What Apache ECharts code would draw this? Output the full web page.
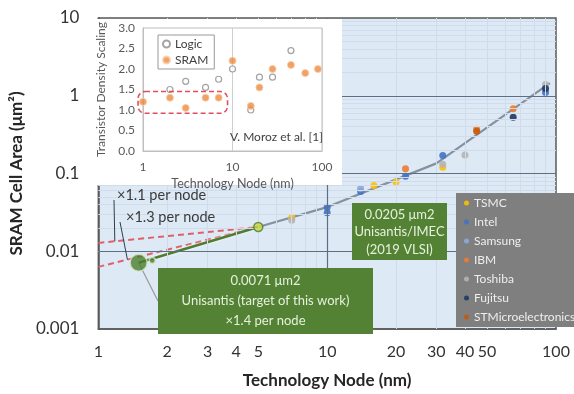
<!DOCTYPE html>
<html><head><meta charset="utf-8">
<script src="https://cdn.jsdelivr.net/npm/echarts@6/dist/echarts.min.js"></script>
<style>html,body{margin:0;padding:0;background:#fff}#c{width:574px;height:394px}</style>
</head><body><div id="c"></div>
<script>
const FONT = 'Lato, "Liberation Sans", sans-serif';
// main chart tick labels
const xTickLabels = [1, 2, 3, 4, 5, 10, 20, 30, 40, 50, 100];
const yTickLabels = [0.001, 0.01, 0.1, 1, 10];
// companies: [node nm, SRAM cell area um2]
const tsmc = [[7, 0.027], [16, 0.07], [20, 0.078], [32, 0.12]];
const intel = [[10, 0.0367], [10, 0.0312], [14, 0.0588], [22, 0.092], [32, 0.171], [90, 1.1]];
const samsung = [[14, 0.064]];
const ibm = [[22, 0.115], [45, 0.37], [65, 0.68]];
const toshiba = [[7, 0.025], [32, 0.132], [40, 0.173], [90, 1.4]];
const fujitsu = [[65, 0.53], [90, 1.24]];
const stmicro = [[45, 0.35]];
const trendLine = [[5, 0.0205], [10, 0.037], [30, 0.135], [94, 1.45]];
const unisantisPoints = [[1.5, 0.0071], [1.72, 0.0076]];
const imecPoint = [[5, 0.0205]];
const line11 = [[1, 0.0128], [5, 0.0205]];
const line13 = [[1, 0.0063], [5, 0.0205]];
const line14 = [[1.5, 0.0071], [5, 0.0205]];
const leader11End = [1.18, 0.01343];
const leader13End = [1.34, 0.0078];
// grid helpers
const majorX = [10];
const majorY = [0.01, 0.1, 1];
const minorMult = [2, 3, 4, 5, 6, 7, 8, 9];
const decadesX = [1, 10];
const decadesY = [0.001, 0.01, 0.1, 1];
// inset
const insetLogic = [[2, 1.5], [3, 1.7], [5, 1.55], [7, 1.75], [10, 2.0], [16, 1.0], [20, 1.8], [28, 1.8], [45, 2.45]];
const insetSram = [[1, 1.2], [2, 1.3], [3, 1.05], [5, 1.3], [7, 1.3], [10, 2.2], [16, 1.1], [20, 1.55], [28, 2.0], [45, 2.1], [65, 1.9], [90, 2.0]];
const insetBox = [[0.88, 1.45], [8.8, 0.92]];

const minorX = [];
decadesX.forEach(d => minorMult.forEach(m => minorX.push(m * d)));
const minorY = [];
decadesY.forEach(d => minorMult.forEach(m => minorY.push(+(m * d).toPrecision(2))));

const companySeries = [
  ['TSMC', tsmc, '#ffc000'],
  ['Intel', intel, '#4472c4'],
  ['Samsung', samsung, '#8eaadb'],
  ['IBM', ibm, '#ed7d31'],
  ['Toshiba', toshiba, '#b4b4b4'],
  ['Fujitsu', fujitsu, '#1f3864'],
  ['STMicroelectronics', stmicro, '#c55a11']
].map(([name, data, color]) => ({
  name, type: 'scatter', xAxisIndex: 0, yAxisIndex: 0, data,
  symbolSize: 7, itemStyle: { color, opacity: 0.9 }, z: 4
}));

const gridLineSeries = (xi, yi, anchor, color, width, data, z) => ({
  type: 'line', xAxisIndex: xi, yAxisIndex: yi, data: [anchor], showSymbol: false, silent: true, z,
  lineStyle: { width: 0 },
  markLine: {
    silent: true, symbol: ['none', 'none'], label: { show: false }, animation: false,
    lineStyle: { color, width, type: 'solid', opacity: 1 },
    emphasis: { disabled: true },
    data
  }
});

const option = {
  animation: false,
  textStyle: { fontFamily: FONT },
  grid: [
    { left: 81, top: 18, width: 475, height: 317, show: true, backgroundColor: '#dee9f6', borderColor: '#595959', borderWidth: 1.5, z: 0 },
    { left: 143, top: 28, width: 179, height: 123, show: true, backgroundColor: '#ffffff', borderColor: '#bfbfbf', borderWidth: 1, z: 10 }
  ],
  xAxis: [
    {
      gridIndex: 0, type: 'log', logBase: 10, min: 1, max: 100,
      name: 'Technology Node (nm)', nameLocation: 'middle', nameGap: 43,
      nameTextStyle: { fontFamily: FONT, fontWeight: 'bold', fontSize: 17, color: '#262626' },
      axisLine: { show: true, onZero: false, lineStyle: { color: '#595959', width: 1.5 } },
      axisTick: { show: false },
      axisLabel: { customValues: xTickLabels, formatter: v => String(Math.round(v)), fontFamily: FONT, fontSize: 16, color: '#333333', margin: 15 },
      splitLine: { show: false },
      z: 1
    },
    {
      gridIndex: 1, type: 'log', logBase: 10, min: 1, max: 100,
      name: 'Technology Node (nm)', nameLocation: 'middle', nameGap: 26,
      nameTextStyle: { fontFamily: FONT, fontSize: 12.5, color: '#595959' },
      axisLine: { show: true, onZero: false, lineStyle: { color: '#bfbfbf' } },
      axisTick: { show: false },
      axisLabel: { fontFamily: FONT, fontSize: 12, color: '#595959', margin: 10 },
      splitLine: { show: true, lineStyle: { color: '#cfcfcf' } },
      z: 10
    }
  ],
  yAxis: [
    {
      gridIndex: 0, type: 'log', logBase: 10, min: 0.001, max: 10,
      name: 'SRAM Cell Area (μm²)', nameLocation: 'middle', nameGap: 63,
      nameTextStyle: { fontFamily: FONT, fontWeight: 'bold', fontSize: 17, color: '#262626' },
      axisLine: { show: true, onZero: false, lineStyle: { color: '#595959', width: 1.5 } },
      axisTick: { show: false },
      axisLabel: { customValues: yTickLabels, formatter: v => String(+v.toPrecision(1)), fontFamily: FONT, fontSize: 17, color: '#333333', margin: 19 },
      splitLine: { show: false },
      z: 1
    },
    {
      gridIndex: 1, type: 'value', min: 0, max: 3, interval: 0.5,
      name: 'Transistor Density Scaling', nameLocation: 'middle', nameGap: 36,
      nameTextStyle: { fontFamily: FONT, fontSize: 12, color: '#595959' },
      axisLine: { show: true, lineStyle: { color: '#bfbfbf' } },
      axisTick: { show: false },
      axisLabel: { formatter: v => v.toFixed(1), fontFamily: FONT, fontSize: 12, color: '#595959', margin: 8 },
      splitLine: { show: false },
      z: 10
    }
  ],
  legend: [
    {
      data: ['TSMC', 'Intel', 'Samsung', 'IBM', 'Toshiba', 'Fujitsu', 'STMicroelectronics'],
      orient: 'vertical', left: 456, top: 193, padding: [4, 20, 4, 8], itemGap: 7, itemWidth: 5, itemHeight: 5,
      icon: 'circle', backgroundColor: '#7f7f7f', textStyle: { color: '#eeeeee', fontSize: 12, fontFamily: FONT }, z: 20
    },
    {
      data: ['Logic', 'SRAM'], orient: 'vertical', left: 158, top: 35, padding: [3, 6, 3, 4], itemGap: 4,
      itemWidth: 7, itemHeight: 7, backgroundColor: '#ffffff', borderColor: '#999999', borderWidth: 1,
      textStyle: { color: '#404040', fontSize: 12, fontFamily: FONT }, z: 20
    }
  ],
  series: [
    gridLineSeries(0, 0, [1, 0.001], '#d0dcec', 1, [...minorX.map(v => ({ xAxis: v })), ...minorY.map(v => ({ yAxis: v }))], 1),
    gridLineSeries(0, 0, [1, 0.001], '#5d6f82', 1.2, [...majorX.map(v => ({ xAxis: v })), ...majorY.map(v => ({ yAxis: v }))], 2),
    { type: 'line', xAxisIndex: 0, yAxisIndex: 0, data: trendLine, symbol: 'none', lineStyle: { color: '#84919e', width: 2.2 }, z: 3 },
    { type: 'line', xAxisIndex: 0, yAxisIndex: 0, data: line11, symbol: 'none', lineStyle: { color: '#e0606a', width: 2, type: [6, 4] }, z: 3 },
    { type: 'line', xAxisIndex: 0, yAxisIndex: 0, data: line13, symbol: 'none', lineStyle: { color: '#e0606a', width: 2, type: [6, 4] }, z: 3 },
    { type: 'line', xAxisIndex: 0, yAxisIndex: 0, data: line14, symbol: 'none', lineStyle: { color: '#4e7d32', width: 2.5, shadowColor: 'rgba(255,255,255,0.9)', shadowBlur: 3 }, z: 4 },
    ...companySeries,
    {
      type: 'scatter', xAxisIndex: 0, yAxisIndex: 0, data: unisantisPoints, clip: false,
      symbolSize: (v, p) => p.dataIndex === 0 ? 17 : 6,
      itemStyle: { color: '#4a7f2e', borderColor: '#d8e8c8', borderWidth: 1.5 }, z: 6
    },
    {
      type: 'scatter', xAxisIndex: 0, yAxisIndex: 0, data: imecPoint,
      symbolSize: 9, itemStyle: { color: '#c8d840', borderColor: '#4e7d32', borderWidth: 1.5 }, z: 6
    },
    gridLineSeries(1, 1, [1, 0], '#d6d6d6', 1, minorX.map(v => ({ xAxis: v })), 11),
    {
      name: 'Logic', type: 'scatter', xAxisIndex: 1, yAxisIndex: 1, data: insetLogic, clip: false,
      symbolSize: 6, itemStyle: { color: '#ffffff', borderColor: '#8c8c8c', borderWidth: 1.2 }, z: 12
    },
    {
      name: 'SRAM', type: 'scatter', xAxisIndex: 1, yAxisIndex: 1, data: insetSram, clip: false,
      symbolSize: 7, itemStyle: { color: '#ee8a3c', borderColor: '#f8cba8', borderWidth: 1 }, z: 12
    }
  ]
};

const chart = echarts.init(document.getElementById('c'), null, { renderer: 'canvas' });
chart.setOption(option);

const p0 = pt => chart.convertToPixel({ gridIndex: 0 }, pt);
const p1 = pt => chart.convertToPixel({ gridIndex: 1 }, pt);
const bA = p1(insetBox[0]), bB = p1(insetBox[1]);
const l11 = p0(leader11End), l13 = p0(leader13End), u0 = p0(unisantisPoints[0]);
const BOX_TXT = '#e6f0dc';

chart.setOption({
  graphic: [
    { type: 'rect', shape: { x: 92, y: 19, width: 250, height: 166 }, style: { fill: '#ffffff' }, z: 5, silent: true },
    { type: 'rect', shape: { x: bA[0], y: bA[1], width: bB[0] - bA[0], height: bB[1] - bA[1], r: 7 }, style: { fill: 'none', stroke: '#e05060', lineWidth: 1.6, lineDash: [5, 3] }, z: 30, silent: true },
    { type: 'text', x: 230, y: 137, style: { text: 'V. Moroz et al. [1]', fontSize: 12, fill: '#404040', fontFamily: FONT, verticalAlign: 'middle' }, z: 30 },
    { type: 'line', shape: { x1: 114, y1: 200, x2: l11[0], y2: l11[1] }, style: { stroke: '#2f3e4e', lineWidth: 1 }, z: 7 },
    { type: 'line', shape: { x1: 120, y1: 222, x2: l13[0], y2: l13[1] }, style: { stroke: '#2f3e4e', lineWidth: 1 }, z: 7 },
    { type: 'text', x: 117, y: 195, style: { text: '×1.1 per node', fontSize: 14.5, fill: '#3a3a3a', fontFamily: FONT, verticalAlign: 'middle' }, z: 7 },
    { type: 'text', x: 126, y: 217, style: { text: '×1.3 per node', fontSize: 14.5, fill: '#3a3a3a', fontFamily: FONT, verticalAlign: 'middle' }, z: 7 },
    { type: 'line', shape: { x1: u0[0], y1: u0[1], x2: 158, y2: 301 }, style: { stroke: '#999999', lineWidth: 1.2 }, z: 2 },
    { type: 'rect', shape: { x: 158, y: 268, width: 215, height: 66 }, style: { fill: '#548235' }, z: 7 },
    { type: 'text', x: 265.5, y: 271, style: { text: '0.0071 μm2\nUnisantis (target of this work)\n×1.4 per node', align: 'center', lineHeight: 20, fontSize: 13, fill: BOX_TXT, fontFamily: FONT }, z: 8 },
    { type: 'rect', shape: { x: 352, y: 203, width: 95, height: 57 }, style: { fill: '#548235' }, z: 7 },
    { type: 'text', x: 399.5, y: 206, style: { text: '0.0205 μm2\nUnisantis/IMEC\n(2019 VLSI)', align: 'center', lineHeight: 17.5, fontSize: 13, fill: BOX_TXT, fontFamily: FONT }, z: 8 }
  ]
});
</script>
</body></html>
